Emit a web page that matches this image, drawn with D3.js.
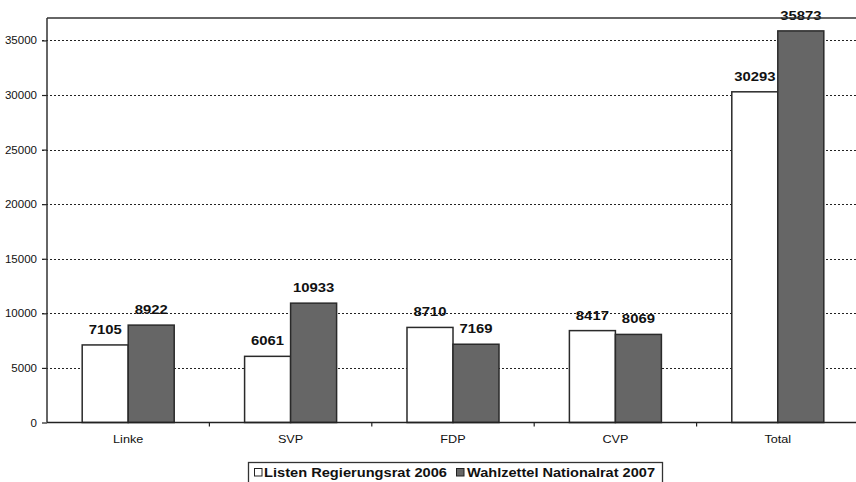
<!DOCTYPE html>
<html><head><meta charset="utf-8">
<script src="https://cdn.jsdelivr.net/npm/d3@7"></script>
<style>body{margin:0;background:#fff;}svg{display:block;font-family:Arial,"Liberation Sans",sans-serif;}</style>
</head><body>
<svg id="c" width="856" height="482"></svg>
<script>
const categories = ["Linke", "SVP", "FDP", "CVP", "Total"];
const seriesNames = ["Listen Regierungsrat 2006", "Wahlzettel Nationalrat 2007"];
const listen2006 = [7105, 6061, 8710, 8417, 30293];
const wahlzettel2007 = [8922, 10933, 7169, 8069, 35873];
const yTicks = [0, 5000, 10000, 15000, 20000, 25000, 30000, 35000];
const colors = ["#ffffff", "#666666"];

const svg = d3.select("#c");
const pLeft = 47, pRight = 859, pTop = 18, pBottom = 422.5;
const x = d3.scaleBand().domain(categories).range([pLeft, pRight]).paddingInner(0).paddingOuter(0);
const x1 = d3.scaleBand().domain([0, 1]).range([0, x.bandwidth()]).paddingOuter(0.765).paddingInner(0);
const y = d3.scaleLinear().domain([0, 37000]).range([pBottom, pTop + 0.6]);

function stretch(sel, f) {
  sel.each(function () {
    const w = this.getComputedTextLength();
    d3.select(this).attr("textLength", w * f).attr("lengthAdjust", "spacingAndGlyphs");
  });
}

// gridlines
svg.append("g").selectAll("line").data(yTicks.filter(d => d > 0)).join("line")
  .attr("x1", pLeft - 5).attr("x2", pRight).attr("y1", d => Math.round(y(d)) + 0.5).attr("y2", d => Math.round(y(d)) + 0.5)
  .attr("stroke", "#222").attr("stroke-width", 1.2).attr("stroke-dasharray", "2,2");

// bars
const data = categories.map((c, i) => ({c, v: [listen2006[i], wahlzettel2007[i]]}));
const g = svg.append("g");
data.forEach(d => {
  d.v.forEach((v, s) => {
    g.append("rect")
      .attr("x", x(d.c) + x1(s)).attr("y", y(v))
      .attr("width", x1.bandwidth()).attr("height", pBottom - y(v))
      .attr("fill", colors[s]).attr("stroke", "#2a2a2a").attr("stroke-width", 1.5);
  });
});
// value labels
const vl = svg.append("g");
data.forEach(d => {
  d.v.forEach((v, s) => {
    vl.append("text")
      .attr("x", x(d.c) + x1(s) + x1.bandwidth() / 2).attr("y", y(v) - 11)
      .attr("text-anchor", "middle").attr("font-size", 13.5).attr("font-weight", "bold").attr("fill", "#111")
      .text(v);
  });
});
stretch(vl.selectAll("text"), 1.1);

// axes
const yAxis = d3.axisLeft(y).tickValues(yTicks).tickSize(5).tickPadding(5).tickFormat(d3.format("d"));
const ya = svg.append("g").attr("transform", `translate(${pLeft},0)`).call(yAxis);
ya.select(".domain").remove();
ya.selectAll("text").attr("font-size", 11).attr("fill", "#111").attr("font-family", "Arial,'Liberation Sans',sans-serif");
ya.selectAll("line").attr("stroke", "#222").attr("stroke-width", 1.2);
stretch(ya.selectAll("text"), 1.05);

svg.append("line").attr("x1", pLeft).attr("x2", pLeft).attr("y1", pTop).attr("y2", pBottom)
  .attr("stroke", "#333").attr("stroke-width", 1.5);
svg.append("line").attr("x1", pLeft).attr("x2", 856).attr("y1", pTop).attr("y2", pTop)
  .attr("stroke", "#333").attr("stroke-width", 1.5);
svg.append("line").attr("x1", pLeft).attr("x2", 856).attr("y1", pBottom).attr("y2", pBottom)
  .attr("stroke", "#222").attr("stroke-width", 1.5);

// category ticks
svg.append("g").selectAll("line").data(categories.slice(1)).join("line")
  .attr("x1", d => x(d)).attr("x2", d => x(d)).attr("y1", pBottom).attr("y2", pBottom + 4)
  .attr("stroke", "#222").attr("stroke-width", 1.2);
const cl = svg.append("g").selectAll("text").data(categories).join("text")
  .attr("x", d => x(d) + x.bandwidth() / 2).attr("y", 443)
  .attr("text-anchor", "middle").attr("font-size", 11).attr("fill", "#111").text(d => d);
stretch(cl, 1.15);

// legend
const lg = svg.append("g");
lg.append("rect").attr("x", 248.5).attr("y", 462.5).attr("width", 414).attr("height", 24)
  .attr("fill", "#fff").attr("stroke", "#333").attr("stroke-width", 1.3);
const sqx = [254, 456];
const tx = [264, 467];
const tw = [183, 188];
seriesNames.forEach((n, i) => {
  lg.append("rect").attr("x", sqx[i] + 0.5).attr("y", 468.5).attr("width", 7.5).attr("height", 7.5)
    .attr("fill", colors[i]).attr("stroke", "#222").attr("stroke-width", 1);
  lg.append("text").attr("x", tx[i]).attr("y", 477).attr("font-size", 13.5).attr("font-weight", "bold")
    .attr("fill", "#111").attr("textLength", tw[i]).attr("lengthAdjust", "spacingAndGlyphs").text(n);
});
</script>
</body></html>
